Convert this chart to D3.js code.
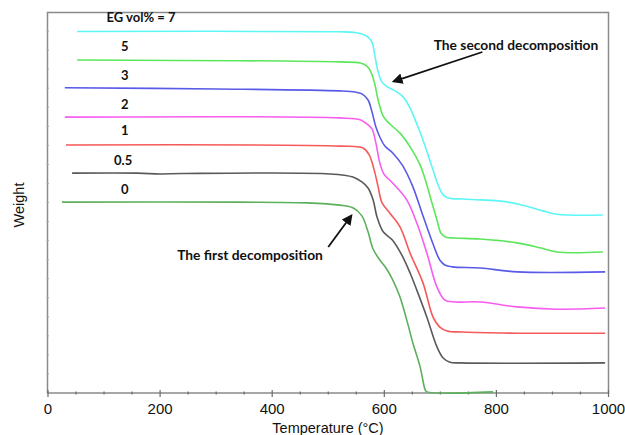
<!DOCTYPE html>
<html>
<head>
<meta charset="utf-8">
<script src="https://cdn.jsdelivr.net/npm/d3@7"></script>
<style>
  html, body { margin: 0; padding: 0; background: #fff; }
  svg { display: block; }
</style>
</head>
<body>
<svg id="chart" width="625" height="435"></svg>
<script>
// TGA curves of samples with different EG content (weight curves offset vertically, arbitrary units)
const seriesNames = ["7", "5", "3", "2", "1", "0.5", "0"];
const seriesLabels = ["EG vol% = 7", "5", "3", "2", "1", "0.5", "0"];
const seriesColors = ["#5cf6f6", "#5ce65c", "#5a5ae8", "#f85cf0", "#f55a5a", "#5a5a5a", "#5cb05c"];

// [temperature °C, weight a.u.]
const eg7 = [[52,94.9],[521,94.8],[548,94.6],[560,94.2],[571,93.4],[578,92.1],[583,88.7],[589,84.3],[596,81.6],[607,80.2],[619,79.3],[633,77.8],[646,74.8],[658,70.6],[669,66.4],[678,62.5],[687,58.5],[696,54.6],[705,52.0],[714,51.2],[740,50.9],[771,50.7],[812,50.3],[847,49.3],[883,47.8],[908,46.9],[990,46.7]];
const eg5 = [[52,87.4],[521,86.9],[557,86.6],[569,85.8],[576,84.3],[583,81.1],[589,76.9],[598,72.7],[610,70.6],[628,68.2],[646,64.6],[664,59.8],[676,54.6],[685,49.9],[694,45.4],[701,42.0],[710,40.9],[726,40.7],[771,40.4],[837,39.4],[878,38.1],[908,37.0],[990,37.0]];
const eg3 = [[30,80.1],[301,79.8],[521,79.3],[548,79.0],[560,78.5],[571,76.9],[578,73.8],[585,69.8],[592,67.2],[601,64.8],[615,63.0],[633,59.6],[651,54.1],[669,46.5],[687,39.1],[699,34.9],[708,33.6],[721,33.1],[771,32.8],[837,31.8],[994,31.8]];
const eg2 = [[30,72.4],[521,72.2],[557,71.7],[569,70.6],[578,69.3],[585,65.6],[592,60.4],[599,57.5],[615,55.1],[640,50.7],[658,44.6],[676,36.7],[694,27.8],[708,24.4],[726,23.9],[771,23.9],[837,22.6],[908,22.0],[994,22.3]];
const eg1 = [[32,65.1],[521,64.8],[562,64.3],[573,62.5],[582,58.5],[589,54.1],[596,49.9],[610,47.2],[628,43.6],[646,36.7],[669,28.9],[687,19.9],[699,17.3],[712,16.3],[740,16.0],[837,15.7],[994,15.7]];
const eg05 = [[43,57.7],[160,57.7],[200,57.5],[240,57.6],[503,57.5],[544,56.7],[560,55.4],[571,53.8],[580,50.7],[587,46.2],[598,42.3],[614,40.2],[632,36.0],[646,31.5],[658,27.0],[676,19.9],[694,12.1],[705,9.2],[717,8.1],[735,7.9],[994,7.9]];
const eg0 = [[25,50.1],[343,50.1],[462,49.9],[521,49.3],[544,48.6],[560,46.5],[571,42.3],[580,37.8],[592,34.9],[603,32.8],[615,29.7],[628,25.2],[640,19.2],[651,13.1],[664,6.8],[673,0.8],[676,0.3],[794,0.3]];
const seriesData = [eg7, eg5, eg3, eg2, eg1, eg05, eg0];

// label anchor points [temperature, weight] for each curve
const labelPos = [[166,97.4],[137,89.8],[137,82.2],[137,74.5],[137,67.7],[134,59.8],[137,52.2]];

const xTicks = [0, 200, 400, 600, 800, 1000];

const svg = d3.select("#chart");

const x = d3.scaleLinear().domain([0, 1000]).range([48, 608.5]);
const y = d3.scaleLinear().domain([0, 100]).range([393, 12]);

// frame
svg.append("rect")
  .attr("x", 47.5).attr("y", 12.5)
  .attr("width", 608.5 - 47.5).attr("height", 393 - 12.5)
  .attr("fill", "none").attr("stroke", "#8a8a8a").attr("stroke-width", 1.5);

// x axis ticks
const axisColor = "#6a6a6a";
const minor = d3.range(0, 1001, 50);
svg.append("g").selectAll("line").data(minor).join("line")
  .attr("x1", d => x(d)).attr("x2", d => x(d))
  .attr("y1", d => d % 200 === 0 ? 390 : 391.5)
  .attr("y2", d => d % 200 === 0 ? 397 : 394.5)
  .attr("stroke", axisColor).attr("stroke-width", 1.2);

svg.append("g").selectAll("text").data(xTicks).join("text")
  .attr("x", d => x(d)).attr("y", 414)
  .attr("text-anchor", "middle")
  .attr("font-family", "Liberation Sans, Arial, sans-serif")
  .attr("font-size", 15).attr("fill", "#111")
  .text(d => d);

// y axis small ticks
svg.append("g").selectAll("line").data(d3.range(5, 100, 5)).join("line")
  .attr("x1", 46.5).attr("x2", 49)
  .attr("y1", d => y(d)).attr("y2", d => y(d))
  .attr("stroke", "#aaa").attr("stroke-width", 1);

// axis titles
svg.append("text")
  .attr("x", 328).attr("y", 433)
  .attr("text-anchor", "middle")
  .attr("font-family", "Liberation Sans, Arial, sans-serif")
  .attr("font-size", 14.5).attr("fill", "#111")
  .text("Temperature (°C)");

svg.append("text")
  .attr("transform", "translate(24,205) rotate(-90)")
  .attr("text-anchor", "middle")
  .attr("font-family", "Liberation Sans, Arial, sans-serif")
  .attr("font-size", 14.5).attr("fill", "#111")
  .text("Weight");

// curves
const line = d3.line()
  .x(d => x(d[0])).y(d => y(d[1]))
  .curve(d3.curveCatmullRom.alpha(0.5));

svg.append("g").selectAll("path").data(seriesData).join("path")
  .attr("d", line)
  .attr("fill", "none")
  .attr("stroke", (d, i) => seriesColors[i])
  .attr("stroke-width", 1.6);

// curve labels
svg.append("g").selectAll("text").data(seriesLabels).join("text")
  .attr("x", (d, i) => x(labelPos[i][0]))
  .attr("y", (d, i) => y(labelPos[i][1]))
  .attr("text-anchor", "middle")
  .attr("font-family", "Lato, Open Sans, sans-serif")
  .attr("font-weight", 700)
  .attr("font-size", 13).attr("fill", "#111")
  .text(d => d);

// annotations
svg.append("defs").append("marker")
  .attr("id", "arrowHead")
  .attr("viewBox", "0 0 10 10")
  .attr("refX", 8).attr("refY", 5)
  .attr("markerWidth", 6).attr("markerHeight", 6)
  .attr("orient", "auto")
  .append("path").attr("d", "M0,0 L10,5 L0,10 Z").attr("fill", "#111");

const notes = [
  {text: "The second decomposition", tx: 516, ty: 50, from: [775, 89.5], to: [617, 81.8]},
  {text: "The first decomposition", tx: 250, ty: 260, from: [500, 38.3], to: [541, 46.5]}
];

svg.append("g").selectAll("line").data(notes).join("line")
  .attr("x1", d => x(d.from[0])).attr("y1", d => y(d.from[1]))
  .attr("x2", d => x(d.to[0])).attr("y2", d => y(d.to[1]))
  .attr("stroke", "#111").attr("stroke-width", 1.8)
  .attr("marker-end", "url(#arrowHead)");

svg.append("g").selectAll("text").data(notes).join("text")
  .attr("x", d => d.tx).attr("y", d => d.ty)
  .attr("text-anchor", "middle")
  .attr("font-family", "Lato, Open Sans, sans-serif")
  .attr("font-weight", 700)
  .attr("font-size", 13.8).attr("fill", "#111")
  .text(d => d.text);
</script>
</body>
</html>
